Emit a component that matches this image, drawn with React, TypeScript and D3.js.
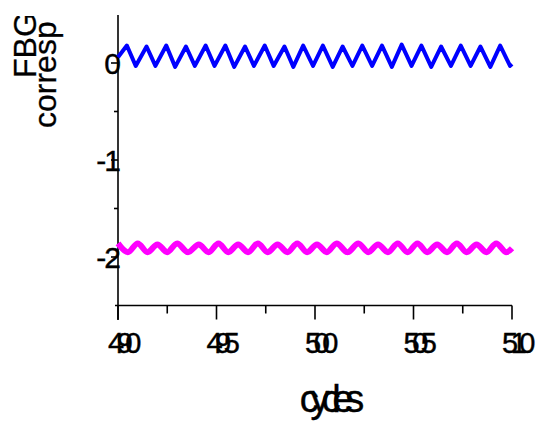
import React, { useRef, useEffect } from 'react';
import * as d3 from 'd3';

// blue series: cycles / value
const blueCycles = [
  490, 490.45, 490.9, 491.45, 491.9, 492.45, 492.9, 493.45, 493.9, 494.45, 494.9,
  495.45, 495.9, 496.45, 496.9, 497.45, 497.9, 498.45, 498.9, 499.4, 499.9,
  500.4, 500.9, 501.4, 501.9, 502.4, 502.9, 503.4, 503.9, 504.4, 504.9,
  505.4, 505.9, 506.4, 506.9, 507.4, 507.9, 508.4, 508.9, 509.4, 509.9, 510,
];
const blueValues = [
  0.06, 0.18, -0.03, 0.17, -0.03, 0.18, -0.04, 0.17, -0.03, 0.18, -0.03,
  0.18, -0.04, 0.17, -0.03, 0.18, -0.03, 0.17, -0.04, 0.18, -0.03,
  0.18, -0.04, 0.17, -0.03, 0.18, -0.03, 0.18, -0.04, 0.19, -0.03,
  0.18, -0.04, 0.17, -0.03, 0.18, -0.03, 0.17, -0.04, 0.18, -0.03, -0.01,
];

// magenta series
const pinkCycles = [
  490, 490.5, 491, 491.5, 492, 492.5, 493, 493.55, 494.1, 494.6, 495.1,
  495.6, 496.1, 496.6, 497.1, 497.6, 498.1, 498.6, 499.1, 499.6, 500.1,
  500.6, 501.1, 501.65, 502.2, 502.7, 503.2, 503.7, 504.2, 504.7, 505.2,
  505.7, 506.2, 506.7, 507.2, 507.7, 508.2, 508.7, 509.2, 509.7, 510,
];
const pinkValues = [
  -1.86, -1.95, -1.86, -1.95, -1.87, -1.95, -1.86, -1.95, -1.87, -1.95, -1.86,
  -1.95, -1.87, -1.95, -1.86, -1.95, -1.87, -1.95, -1.86, -1.95, -1.87,
  -1.95, -1.86, -1.95, -1.86, -1.95, -1.87, -1.95, -1.86, -1.95, -1.86,
  -1.95, -1.87, -1.95, -1.86, -1.95, -1.87, -1.95, -1.86, -1.95, -1.91,
];

const xTicks = [490, 495, 500, 505, 510];
const xMinor = [492.5, 497.5, 502.5, 507.5];
const yTicks = [0, -1, -2];
const yMinor = [-0.5, -1.5];

const W = 541, H = 429;
const font = 'Arial, "Liberation Sans", sans-serif';

const Chart = () => {
  const ref = useRef<SVGSVGElement>(null);

  useEffect(() => {
    const svg = d3.select(ref.current);
    svg.selectAll('*').remove();

    const x = d3.scaleLinear().domain([490, 510]).range([118, 512]);
    const y = d3.scaleLinear().domain([-2.5, 0.5]).range([305.5, 14.5]);

    // clip for the y title (cut at the top like the original)
    svg.append('defs').append('clipPath').attr('id', 'ttl')
      .append('rect').attr('x', 0).attr('y', 16).attr('width', 110).attr('height', 200);

    // axes lines
    svg.append('line').attr('x1', x(490)).attr('x2', x(490)).attr('y1', 15).attr('y2', 320)
      .attr('stroke', '#000').attr('stroke-width', 1.6);
    svg.append('line').attr('x1', 115).attr('x2', x(510)).attr('y1', y(-2.5)).attr('y2', y(-2.5))
      .attr('stroke', '#000').attr('stroke-width', 1.6);

    // x ticks
    svg.selectAll('.xt').data(xTicks).enter().append('line')
      .attr('x1', d => x(d)).attr('x2', d => x(d))
      .attr('y1', y(-2.5)).attr('y2', y(-2.5) + 14)
      .attr('stroke', '#000').attr('stroke-width', 1.6);
    svg.selectAll('.xm').data(xMinor).enter().append('line')
      .attr('x1', d => x(d)).attr('x2', d => x(d))
      .attr('y1', y(-2.5)).attr('y2', y(-2.5) + 8)
      .attr('stroke', '#000').attr('stroke-width', 1.6);
    svg.selectAll('.xl').data(xTicks).enter().append('text')
      .attr('x', d => x(d) + 3).attr('y', 353)
      .attr('text-anchor', 'middle')
      .style('font-family', font).style('font-size', '29px')
      .style('letter-spacing', '-7.5px')
      .style('stroke', '#000').style('stroke-width', 0.4)
      .text(d => d);

    // y ticks
    svg.selectAll('.yt').data(yTicks).enter().append('line')
      .attr('x1', x(490) - 7).attr('x2', x(490))
      .attr('y1', d => y(d)).attr('y2', d => y(d))
      .attr('stroke', '#000').attr('stroke-width', 1.6);
    svg.selectAll('.ym').data(yMinor).enter().append('line')
      .attr('x1', x(490) - 4).attr('x2', x(490))
      .attr('y1', d => y(d)).attr('y2', d => y(d))
      .attr('stroke', '#000').attr('stroke-width', 1.6);
    svg.selectAll('.yl').data(yTicks).enter().append('text')
      .attr('x', 119).attr('y', d => y(d) + 10.5)
      .attr('text-anchor', 'end')
      .style('font-family', font).style('font-size', '30px')
      .style('letter-spacing', '-2px')
      .style('stroke', '#000').style('stroke-width', 0.4)
      .text(d => d);

    // titles
    svg.append('text')
      .attr('x', 328).attr('y', 412)
      .attr('text-anchor', 'middle')
      .style('font-family', font).style('font-size', '38px')
      .style('letter-spacing', '-8.2px')
      .style('stroke', '#000').style('stroke-width', 0.4)
      .text('cycles');

    const ttl = svg.append('g').attr('clip-path', 'url(#ttl)');
    ttl.append('text')
      .attr('transform', 'translate(35.5,78) rotate(-90)')
      .style('font-family', font).style('font-size', '32px')
      .style('stroke', '#000').style('stroke-width', 0.3)
      .text('FBG');
    ttl.append('text')
      .attr('transform', 'translate(56,128) rotate(-90)')
      .style('font-family', font).style('font-size', '32px')
      .style('stroke', '#000').style('stroke-width', 0.3)
      .text('corresp');

    // series
    const line = d3.line<[number, number]>()
      .x(d => x(d[0])).y(d => y(d[1]));

    svg.append('path')
      .datum(d3.zip(pinkCycles, pinkValues) as [number, number][])
      .attr('d', line.curve(d3.curveCatmullRom))
      .attr('fill', 'none').attr('stroke', '#ff00ff').attr('stroke-width', 6);

    svg.append('path')
      .datum(d3.zip(blueCycles, blueValues) as [number, number][])
      .attr('d', line.curve(d3.curveLinear))
      .attr('fill', 'none').attr('stroke', '#0000ff').attr('stroke-width', 4)
      .attr('stroke-linejoin', 'round');
  }, []);

  return <svg ref={ref} width={W} height={H} style={{ position: 'absolute', left: 0, top: 0, background: '#fff' }} />;
};

export default function App() {
  return <Chart />;
}
